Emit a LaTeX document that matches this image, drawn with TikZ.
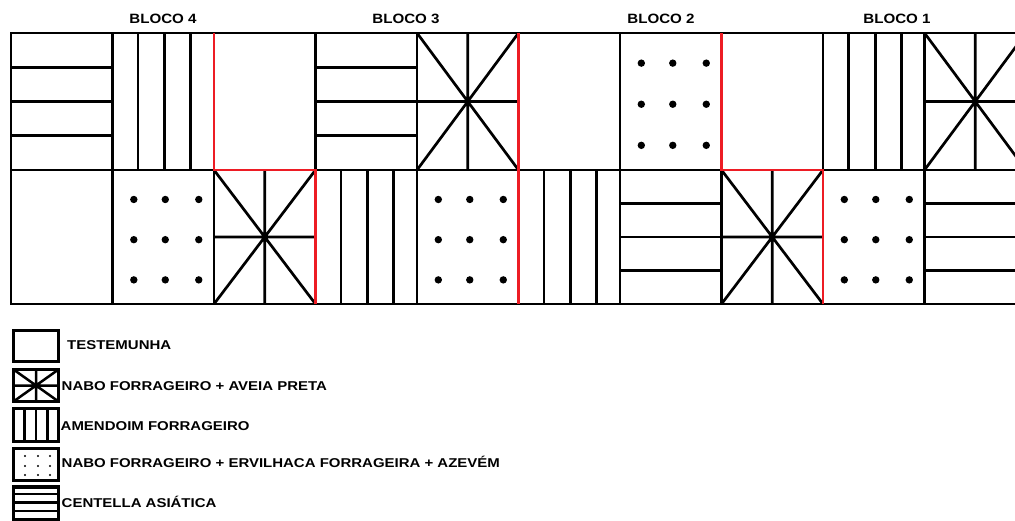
\documentclass[tikz,border=0pt]{standalone}
\usepackage{fontspec}
\newfontfamily\blkfont{Liberation Sans}[FakeStretch=1.12]
\newfontfamily\legfont{Liberation Sans}[FakeStretch=1.17]
\definecolor{plotred}{RGB}{237,28,36}
\tikzset{
  grid/.style={line width=2.7pt, draw=black},
  outer/.style={line width=2.9pt, draw=black},
  redb/.style={line width=2.8pt, draw=plotred},
  legbox/.style={line width=3.6pt, draw=black},
  legline/.style={line width=2.5pt, draw=black},
  blklabel/.style={anchor=base, inner sep=0pt, font=\blkfont\bfseries\fontsize{13.5}{16}\selectfont},
  leglabel/.style={anchor=base west, inner sep=0pt, font=\legfont\bfseries\fontsize{12.8}{15}\selectfont},
}
\newcommand\HorzCell[4]{\foreach \f in {0.25,0.5,0.75}{\draw[grid] (#1,{#2+\f*(#4-#2)}) -- (#3,{#2+\f*(#4-#2)});}}
\newcommand\VertCell[4]{\foreach \f in {0.25,0.515,0.77}{\draw[grid] ({#1+\f*(#3-#1)},#2) -- ({#1+\f*(#3-#1)},#4);}}
\newcommand\XCell[4]{\draw[grid] (#1,#2) -- (#3,#4) (#1,#4) -- (#3,#2) ({(#1+#3)/2},#2) -- ({(#1+#3)/2},#4) (#1,{(#2+#4)/2}) -- (#3,{(#2+#4)/2});}
\newcommand\DotCell[4]{\foreach \fx in {0.21,0.52,0.85}{\foreach \fy in {0.22,0.52,0.82}{\fill ({#1+\fx*(#3-#1)},{#2+\fy*(#4-#2)}) circle[radius=3.7pt];}}}
\begin{document}
\begin{tikzpicture}[x=1pt,y=-1pt]
\useasboundingbox (0,0) rectangle (1015,521);
\clip (0,0) rectangle (1015,521);
% block labels
\node[blklabel] (b4) at (163,24) {BLOCO 4};
\node[blklabel] (b3) at (406,24) {BLOCO 3};
\node[blklabel] (b2) at (661,24) {BLOCO 2};
\node[blklabel] (b1) at (897,24) {BLOCO 1};
% top row patterns
\HorzCell{11}{33}{112.5}{170}
\VertCell{112.5}{33}{214}{170}
\HorzCell{315.5}{33}{417}{170}
\XCell{417}{33}{518.5}{170}
\DotCell{620}{33}{721.5}{170}
\VertCell{823}{33}{924.5}{170}
\XCell{924.5}{33}{1026}{170}
% bottom row patterns
\DotCell{112.5}{170}{214}{304}
\XCell{214}{170}{315.5}{304}
\VertCell{315.5}{170}{417}{304}
\DotCell{417}{170}{518.5}{304}
\VertCell{518.5}{170}{620}{304}
\HorzCell{620}{170}{721.5}{304}
\XCell{721.5}{170}{823}{304}
\DotCell{823}{170}{924.5}{304}
\HorzCell{924.5}{170}{1026}{304}
% grid
\foreach \x in {112.5,214,315.5,417,518.5,620,721.5,823,924.5}{\draw[grid] (\x,33) -- (\x,304);}
\draw[grid] (11,170) -- (1026,170);
\draw[outer] (11,33) rectangle (1026,304);
% block boundaries
\draw[redb] (214,33) -- (214,170) -- (315.5,170) -- (315.5,304);
\draw[redb] (518.5,33) -- (518.5,304);
\draw[redb] (721.5,33) -- (721.5,170) -- (823,170) -- (823,304);
% legend
\draw[legbox] (13.5,330.5) rectangle (58.5,361.5);
\draw[legbox] (13.5,369.5) rectangle (58.5,401.5);
\draw[legline] (13.5,369.5) -- (58.5,401.5) (13.5,401.5) -- (58.5,369.5) (36,369.5) -- (36,401.5) (13.5,385.5) -- (58.5,385.5);
\draw[legbox] (13.5,408.5) rectangle (58.5,441.5);
\draw[legline] (24.5,408.5) -- (24.5,441.5) (36,408.5) -- (36,441.5) (47.5,408.5) -- (47.5,441.5);
\draw[legbox] (13.5,448.5) rectangle (58.5,480.5);
\foreach \dx in {25,38,50}{\foreach \dy in {456,466,475}{\fill (\dx,\dy) circle[radius=1.1pt];}}
\draw[legbox] (13.5,487) rectangle (58.5,530);
\draw[legline] (13.5,494) -- (58.5,494) (13.5,502.5) -- (58.5,502.5) (13.5,511) -- (58.5,511) (13.5,519.5) -- (58.5,519.5);
\node[leglabel] (l1) at (67,349) {TESTEMUNHA};
\node[leglabel] (l2) at (61.5,391) {NABO FORRAGEIRO + AVEIA PRETA};
\node[leglabel] (l3) at (60.5,430) {AMENDOIM FORRAGEIRO};
\node[leglabel] (l4) at (61.5,467) {NABO FORRAGEIRO + ERVILHACA FORRAGEIRA + AZEVÉM};
\node[leglabel] (l5) at (61.5,507) {CENTELLA ASIÁTICA};
\end{tikzpicture}
\end{document}
